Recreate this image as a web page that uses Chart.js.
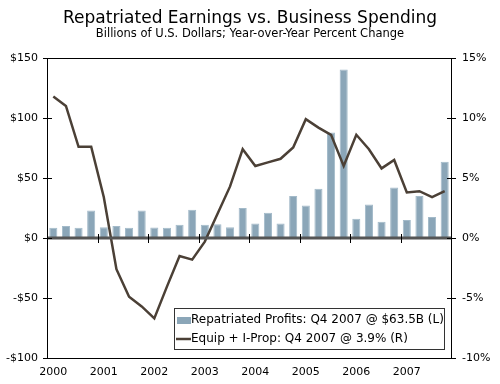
<!DOCTYPE html>
<html>
<head>
<meta charset="utf-8">
<script src="https://cdn.jsdelivr.net/npm/chart.js@4.4.0/dist/chart.umd.min.js"></script>
<style>
  html, body { margin: 0; padding: 0; background: #fff; }
  #wrap { width: 500px; height: 384px; }
</style>
</head>
<body>
<div id="wrap"><canvas id="chart" width="500" height="384"></canvas></div>
<script>
const quarters = [
  "2000 Q1","2000 Q2","2000 Q3","2000 Q4","2001 Q1","2001 Q2","2001 Q3","2001 Q4",
  "2002 Q1","2002 Q2","2002 Q3","2002 Q4","2003 Q1","2003 Q2","2003 Q3","2003 Q4",
  "2004 Q1","2004 Q2","2004 Q3","2004 Q4","2005 Q1","2005 Q2","2005 Q3","2005 Q4",
  "2006 Q1","2006 Q2","2006 Q3","2006 Q4","2007 Q1","2007 Q2","2007 Q3","2007 Q4"
];

// repatriated profits, billions of $ (left axis)
const profits = [
  8.5, 10, 8.5, 23, 9, 10, 8.5, 23,
  8.7, 8.5, 11, 23.5, 11, 11.5, 9, 25,
  12, 21, 12, 35, 27, 41, 88, 140.5,
  16, 28, 13.5, 42, 15, 35, 17.5, 63.5
];

// equipment + intellectual property spending, yoy % (right axis)
const equipIProp = [
  11.8, 11.0, 7.6, 7.6, 3.4, -2.6, -4.9, -5.7,
  -6.7, -4.05, -1.5, -1.8, -0.3, 2.0, 4.3, 7.4,
  6.0, 6.3, 6.6, 7.55, 9.9, 9.2, 8.6, 6.0,
  8.6, 7.4, 5.8, 6.5, 3.8, 3.9, 3.4, 3.9
];

const barColor = "#8ba6b8";
const lineColor = "#4b4036";
const fontFamily = "'DejaVu Sans', Verdana, sans-serif";

// frame, zero line and the little tick marks
const framePlugin = {
  id: "frame",
  afterDatasetsDraw(chart) {
    const { ctx, chartArea: a, scales } = chart;
    const y0 = scales.y.getPixelForValue(0);
    ctx.save();
    ctx.strokeStyle = "#555";
    ctx.lineWidth = 3;
    ctx.beginPath();
    ctx.moveTo(a.left, y0);
    ctx.lineTo(a.right, y0);
    ctx.stroke();

    ctx.strokeStyle = "#000";
    ctx.lineWidth = 1;
    ctx.strokeRect(a.left + 0.5, a.top + 0.5, a.right - a.left, a.bottom - a.top);

    ctx.beginPath();
    scales.y.ticks.forEach(t => {
      const py = Math.round(scales.y.getPixelForValue(t.value)) + 0.5;
      ctx.moveTo(a.left - 4, py); ctx.lineTo(a.left + 5, py);
    });
    scales.y1.ticks.forEach(t => {
      const py = Math.round(scales.y1.getPixelForValue(t.value)) + 0.5;
      ctx.moveTo(a.right - 4, py); ctx.lineTo(a.right + 5, py);
    });
    for (let i = 4; i < quarters.length; i += 4) {
      const px = Math.round((scales.x.getPixelForValue(i - 1) + scales.x.getPixelForValue(i)) / 2) + 0.5;
      ctx.moveTo(px, y0 - 4); ctx.lineTo(px, y0 + 5);
    }
    ctx.stroke();
    ctx.restore();
  }
};

// legend box inside the plot, bottom right
const legendPlugin = {
  id: "legendBox",
  afterDraw(chart) {
    const { ctx, chartArea: a } = chart;
    const w = 270, h = 41;
    const x = a.right - 7 - w, y = a.bottom - 9 - h;
    ctx.save();
    ctx.fillStyle = "#fff";
    ctx.fillRect(x, y, w, h);
    ctx.strokeStyle = "#333";
    ctx.lineWidth = 1;
    ctx.strokeRect(x + 0.5, y + 0.5, w, h);

    const ds = chart.data.datasets;
    ctx.font = "12px " + fontFamily;
    ctx.textBaseline = "middle";
    ctx.fillStyle = ds[0].backgroundColor;
    ctx.fillRect(x + 3, y + 9, 14, 7);
    ctx.fillStyle = "#000";
    ctx.fillText(ds[0].label, x + 17, y + 12);

    ctx.strokeStyle = ds[1].borderColor;
    ctx.lineWidth = 2.5;
    ctx.beginPath();
    ctx.moveTo(x + 2, y + 31);
    ctx.lineTo(x + 17, y + 31);
    ctx.stroke();
    ctx.fillText(ds[1].label, x + 17, y + 31);
    ctx.restore();
  }
};

const tickFont = { family: fontFamily, size: 11 };

new Chart(document.getElementById("chart"), {
  type: "bar",
  data: {
    labels: quarters,
    datasets: [
      {
        type: "bar",
        label: "Repatriated Profits: Q4 2007 @ $63.5B (L)",
        data: profits,
        yAxisID: "y",
        backgroundColor: barColor,
        borderColor: "#a3bac9",
        borderWidth: 1,
        categoryPercentage: 1,
        barPercentage: 0.64,
        order: 2
      },
      {
        type: "line",
        label: "Equip + I-Prop: Q4 2007 @ 3.9% (R)",
        data: equipIProp,
        yAxisID: "y1",
        borderColor: lineColor,
        borderWidth: 2.5,
        pointRadius: 0,
        tension: 0,
        order: 1
      }
    ]
  },
  options: {
    responsive: false,
    animation: false,
    events: [],
    plugins: {
      legend: { display: false },
      tooltip: { enabled: false },
      title: {
        display: true,
        text: "Repatriated Earnings vs. Business Spending",
        color: "#000",
        font: { family: fontFamily, size: 17, weight: "normal" },
        padding: { top: 8, bottom: -1 }
      },
      subtitle: {
        display: true,
        text: "Billions of U.S. Dollars; Year-over-Year Percent Change",
        color: "#000",
        font: { family: fontFamily, size: 11.5 },
        padding: { top: 0, bottom: 16.8 }
      }
    },
    scales: {
      x: {
        type: "category",
        grid: { display: false, drawTicks: false },
        border: { display: false },
        ticks: {
          autoSkip: false,
          maxRotation: 0,
          padding: 8,
          color: "#000",
          font: tickFont,
          callback: (v, i) => (i % 4 === 0 ? quarters[i].slice(0, 4) : "")
        },
        afterFit: s => { s.height = 26; }
      },
      y: {
        position: "left",
        min: -100,
        max: 150,
        grid: { display: false, drawTicks: false },
        border: { display: false },
        ticks: {
          stepSize: 50,
          padding: 9,
          color: "#000",
          font: tickFont,
          callback: v => (v < 0 ? "-$" + Math.abs(v) : "$" + v)
        },
        afterFit: s => { s.width = 47; }
      },
      y1: {
        position: "right",
        min: -10,
        max: 15,
        grid: { display: false, drawTicks: false },
        border: { display: false },
        ticks: {
          stepSize: 5,
          padding: 11,
          color: "#000",
          font: tickFont,
          callback: v => v + "%"
        },
        afterFit: s => { s.width = 49; }
      }
    }
  },
  plugins: [framePlugin, legendPlugin]
});
</script>
</body>
</html>
